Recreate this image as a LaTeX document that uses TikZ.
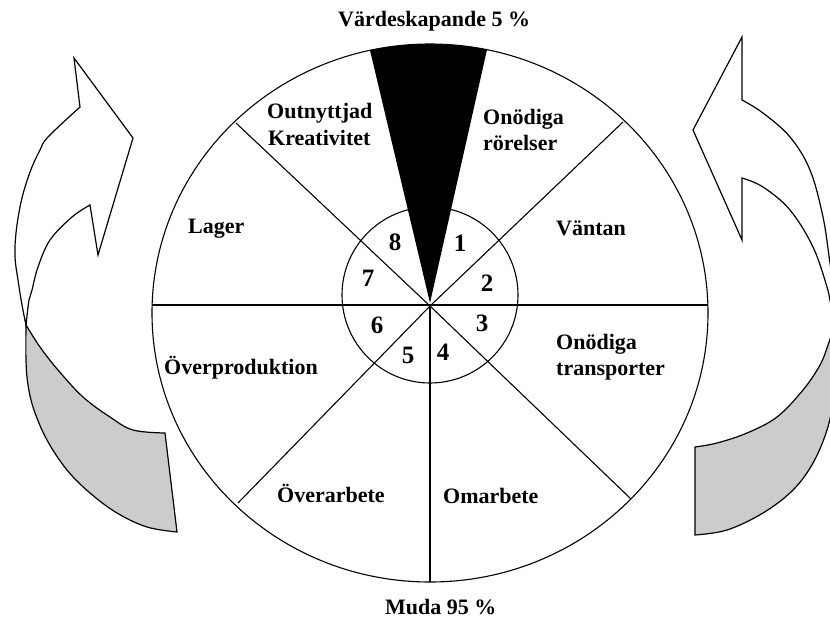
\documentclass[tikz,border=0pt]{standalone}
\usepackage{fontspec}
\setmainfont{Liberation Serif}
\definecolor{shade}{RGB}{204,204,204}
\tikzset{
  lbl/.style={font=\bfseries\fontsize{22}{26}\selectfont, inner sep=0pt, anchor=base west},
  numlbl/.style={font=\bfseries\fontsize{25}{28}\selectfont, inner sep=0pt, anchor=center},
  rim/.style={draw=black, line width=1.1pt},
  spoke/.style={draw=black, line width=1.1pt},
  band/.style={draw=black, line width=1.2pt, line join=miter},
}
\begin{document}
\begin{tikzpicture}[x=1pt,y=-1pt]
\clip (0,0) rectangle (830,621);
\fill[white] (0,0) rectangle (830,621);

% ---------- left curved arrow ----------
\filldraw[band, fill=white] (74,58) -- (80,107)
  -- plot[smooth, tension=0.6] coordinates {(80,107) (48,137) (40,150) (32,167) (25,187) (20,207) (16,233) (15,257) (18,280) (22,305) (26,325)}
  -- plot[smooth, tension=0.6] coordinates {(26,325) (29,300) (32,290) (38,267) (50,240) (72,217) (90,205)}
  -- (98,255) -- (133,138) -- cycle;
\filldraw[band, fill=shade] (26,325)
  -- plot[smooth, tension=0.6] coordinates {(26,325) (26,360) (28,385) (34,410) (47,440) (67,470) (90,493) (117,513) (147,527) (177,532)}
  -- (165,433)
  -- plot[smooth, tension=0.6] coordinates {(165,433) (133,430) (110,417) (83,397) (58,370) (40,347) (26,325)}
  -- cycle;

% ---------- right curved arrow ----------
\filldraw[band, fill=white] (742,37) -- (742,100)
  -- plot[smooth, tension=0.6] coordinates {(742,100) (763,113) (790,137) (810,170) (823,217) (830,263) (836,300) (838,325)}
  -- plot[smooth, tension=0.6] coordinates {(838,325) (831,305) (827,287) (813,247) (790,210) (763,187) (742,178)}
  -- (742,240) -- (693,130) -- cycle;
\filldraw[band, fill=shade] (837,318)
  -- plot[smooth, tension=0.6] coordinates {(837,318) (828,345) (820,365) (803,390) (777,417) (747,433) (717,443) (695,447)}
  -- (695,535)
  -- plot[smooth, tension=0.6] coordinates {(695,535) (727,530) (763,513) (793,490) (813,463) (827,430) (834,397) (838,360) (840,330)}
  -- cycle;

% ---------- wheel ----------
\coordinate (hub) at (430,306);
\coordinate (cen) at (430,313);
\coordinate (pL) at (152,305);
\coordinate (pR) at (708,305);
\coordinate (pB) at (430,582);
\coordinate (pUL) at (236,123);
\coordinate (pUR) at (623,122);
\coordinate (pLR) at (631,499);
\coordinate (pLL) at (238,503);

\draw[spoke] (pL) -- (pR);
\draw[spoke] (hub) -- (pB);
\draw[spoke] (hub) -- (pUL);
\draw[spoke] (hub) -- (pUR);
\draw[spoke] (hub) -- (pLR);
\draw[spoke] (hub) -- (pLL);

\draw[rim] (cen) ellipse [x radius=278pt, y radius=269pt];
\draw[rim] (430,295) circle [radius=88pt];

% value-adding wedge
\fill[black] ([shift={(cen)}]102.46:278pt and 269pt)
  arc[start angle=102.46, end angle=78.17, x radius=278pt, y radius=269pt]
  -- (430,303) -- cycle;

% ---------- numbers ----------
\node[numlbl] (n1) at (460,243) {1};
\node[numlbl] (n2) at (487,283) {2};
\node[numlbl] (n3) at (482,323) {3};
\node[numlbl] (n4) at (443,352) {4};
\node[numlbl] (n5) at (408,355) {5};
\node[numlbl] (n6) at (377,325) {6};
\node[numlbl] (n7) at (368,278) {7};
\node[numlbl] (n8) at (395,242) {8};

% ---------- labels ----------
\node[lbl] (top) at (338,27) {Värdeskapande 5 \%};
\node[lbl] (bot) at (385,614) {Muda 95 \%};
\node[lbl] (out1) at (267,118) {Outnyttjad};
\node[lbl] (out2) at (268,145) {Kreativitet};
\node[lbl] (ror1) at (483,124) {Onödiga};
\node[lbl] (ror2) at (483,150) {rörelser};
\node[lbl] (vant) at (556,235) {Väntan};
\node[lbl] (lag) at (188,233) {Lager};
\node[lbl] (over) at (164,374) {Överproduktion};
\node[lbl] (tra1) at (556,349) {Onödiga};
\node[lbl] (tra2) at (556,375) {transporter};
\node[lbl] (ova) at (277,502) {Överarbete};
\node[lbl] (oma) at (443,503) {Omarbete};
\end{tikzpicture}
\end{document}
